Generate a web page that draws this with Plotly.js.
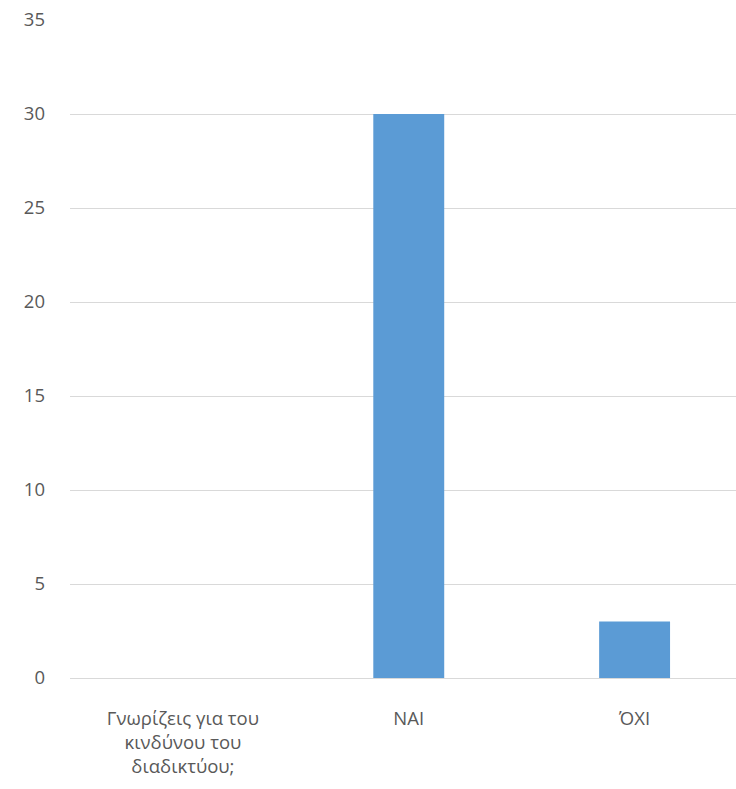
<!DOCTYPE html>
<html>
<head>
<meta charset="utf-8">
<script src="https://cdn.plot.ly/plotly-3.0.1.min.js"></script>
<style>html,body{margin:0;padding:0;background:#fff;}#chart{width:736px;height:789px;}</style>
</head>
<body>
<div id="chart"></div>
<script>
var categories = ["Γνωρίζεις για του<br>κινδύνου του<br>διαδικτύου;", "NAI", "ΌΧΙ"];
var values = [null, 30, 3];
var yTicks = [0, 5, 10, 15, 20, 25, 30, 35];

var font = "Open Sans, Liberation Sans, sans-serif";
Plotly.newPlot("chart", [{
  type: "bar",
  x: categories,
  y: values,
  marker: {color: "#5b9bd5"},
  hoverinfo: "skip"
}], {
  width: 736, height: 789,
  margin: {l: 70, r: 0, t: 20, b: 111},
  paper_bgcolor: "#ffffff", plot_bgcolor: "#ffffff",
  bargap: 0.686,
  showlegend: false,
  xaxis: {
    range: [-0.5, 2.449],
    showgrid: false, showline: false, zeroline: false,
    ticks: "", ticklabelstandoff: 27,
    tickfont: {family: font, size: 18.5, color: "#595959"}
  },
  yaxis: {
    range: [0, 35], tickvals: yTicks,
    showgrid: true, gridcolor: "#d9d9d9", gridwidth: 1,
    zeroline: true, zerolinecolor: "#d9d9d9", zerolinewidth: 1,
    showline: false, ticks: "", ticklabelstandoff: 24,
    tickfont: {family: font, size: 18.5, color: "#595959"}
  }
}, {staticPlot: true});
</script>
</body>
</html>
